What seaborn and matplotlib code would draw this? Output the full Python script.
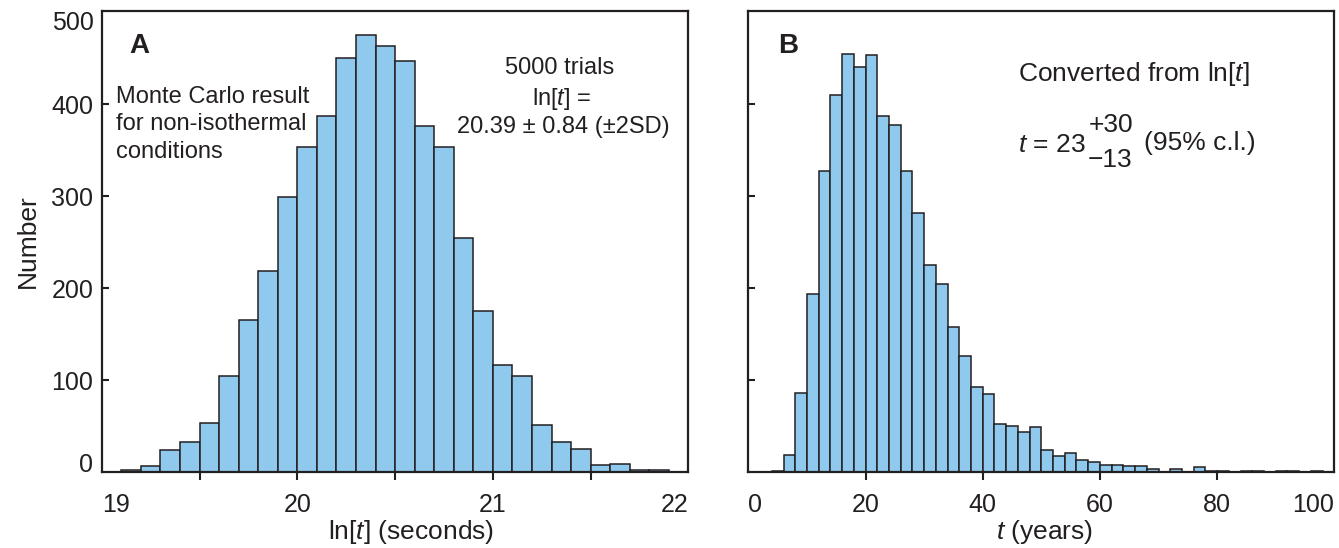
import numpy as np
import pandas as pd
import matplotlib
matplotlib.use("Agg")
import matplotlib.pyplot as plt
import seaborn as sns

# ---------------- data ----------------
# Panel A: ln[t] (seconds), bins of width 0.1
lnt_bin_left = [19.0, 19.1, 19.2, 19.3, 19.4, 19.5, 19.6, 19.7, 19.8, 19.9,
                20.0, 20.1, 20.2, 20.3, 20.4, 20.5, 20.6, 20.7, 20.8, 20.9,
                21.0, 21.1, 21.2, 21.3, 21.4, 21.5, 21.6, 21.7, 21.8, 21.9]
lnt_counts = [0, 2, 6, 24, 33, 53, 105, 165, 219, 299,
              354, 387, 450, 476, 464, 447, 377, 354, 255, 175,
              116, 104, 51, 33, 25, 8, 9, 2, 2, 0]
lnt_bin_width = 0.1

# Panel B: t (years), bins of width 2
yrs_bin_left = [0, 2, 4, 6, 8, 10, 12, 14, 16, 18,
                20, 22, 24, 26, 28, 30, 32, 34, 36, 38,
                40, 42, 44, 46, 48, 50, 52, 54, 56, 58,
                60, 62, 64, 66, 68, 70, 72, 74, 76, 78,
                80, 82, 84, 86, 88, 90, 92, 94, 96, 98]
yrs_counts = [0, 0, 1, 18, 86, 194, 328, 410, 455, 441,
              454, 387, 378, 328, 282, 225, 205, 158, 126, 93,
              85, 52, 50, 43, 49, 24, 17, 21, 13, 11,
              8, 8, 6, 7, 3, 0, 3, 0, 5, 1,
              1, 0, 1, 1, 0, 1, 1, 0, 1, 0]
yrs_bin_width = 2

lnt_major_ticks = [19.5, 20.0, 20.5, 21.0, 21.5]
lnt_major_labels = ["", "20", "", "21", ""]
lnt_end_ticks = [19, 22]
lnt_end_labels = ["19", "22"]

yrs_major_ticks = [20, 40, 60, 80]
yrs_major_labels = ["20", "40", "60", "80"]
yrs_end_ticks = [0, 100]
yrs_end_labels = ["0", "100"]

count_major_ticks = [100, 200, 300, 400]
count_major_labels = ["100", "200", "300", "400"]
count_end_ticks = [0, 502]
count_end_labels = ["0", "500"]

# ---------------- style ----------------
sns.set_style("ticks")
INK = "#231f20"
BAR = "#8fc9ee"
plt.rcParams["font.family"] = ["Liberation Sans", "DejaVu Sans"]
plt.rcParams["mathtext.fontset"] = "custom"
plt.rcParams["mathtext.rm"] = "Liberation Sans"
plt.rcParams["mathtext.it"] = "Liberation Sans:italic"
plt.rcParams["text.color"] = INK
plt.rcParams["axes.labelcolor"] = INK
plt.rcParams["xtick.color"] = INK
plt.rcParams["ytick.color"] = INK

TICK_FS = 18
LABEL_FS = 19

fig = plt.figure(figsize=(13.39, 5.48), dpi=100)
axA = fig.add_axes([0.0760, 0.1387, 0.4381, 0.8418])
axB = fig.add_axes([0.5589, 0.1387, 0.4376, 0.8418])

dfA = pd.DataFrame({"center": np.array(lnt_bin_left) + lnt_bin_width / 2,
                    "count": lnt_counts})
edgesA = list(lnt_bin_left) + [lnt_bin_left[-1] + lnt_bin_width]
sns.histplot(data=dfA, x="center", weights="count", bins=edgesA, ax=axA,
             color=BAR, edgecolor=INK, linewidth=1.1, alpha=1.0)

dfB = pd.DataFrame({"center": np.array(yrs_bin_left) + yrs_bin_width / 2,
                    "count": yrs_counts})
edgesB = list(yrs_bin_left) + [yrs_bin_left[-1] + yrs_bin_width]
sns.histplot(data=dfB, x="center", weights="count", bins=edgesB, ax=axB,
             color=BAR, edgecolor=INK, linewidth=1.1, alpha=1.0)

for ax in (axA, axB):
    for s in ax.spines.values():
        s.set_visible(True)
        s.set_linewidth(1.6)
        s.set_color(INK)
    ax.set_ylim(0, 502)
    ax.set_yticks(count_major_ticks)
    ax.tick_params(axis="x", which="major", direction="out", length=6,
                   width=1.5, pad=9, labelsize=TICK_FS)
    ax.tick_params(axis="x", which="minor", direction="out", length=0,
                   width=0, pad=15, labelsize=TICK_FS)
    ax.tick_params(axis="y", which="both", direction="in", length=5,
                   width=1.5, pad=6, labelsize=TICK_FS)
    ax.set_ylabel("")
    ax.set_xlabel("")

# Panel A axes
axA.set_xlim(19, 22)
axA.set_xticks(lnt_major_ticks)
axA.set_xticklabels(lnt_major_labels)
axA.set_xticks(lnt_end_ticks, minor=True)
axA.set_xticklabels(lnt_end_labels, minor=True)
labs = axA.get_xticklabels(minor=True)
labs[0].set_horizontalalignment("left")
labs[1].set_horizontalalignment("right")
axA.set_yticklabels(count_major_labels)
axA.set_yticks(count_end_ticks, minor=True)
axA.set_yticklabels(count_end_labels, minor=True)
axA.tick_params(axis="y", which="minor", length=0)
ylabs = axA.get_yticklabels(minor=True)
ylabs[0].set_verticalalignment("baseline")
ylabs[1].set_verticalalignment("top")

axA.set_ylabel("Number", fontsize=LABEL_FS)
axA.yaxis.set_label_coords(-0.105, 0.5)
axA.set_xlabel("ln[$t$] (seconds)", fontsize=LABEL_FS)
axA.xaxis.set_label_coords(0.527, -0.10)

# Panel B axes
axB.set_xlim(0, 100)
axB.set_xticks(yrs_major_ticks)
axB.set_xticklabels(yrs_major_labels)
axB.set_xticks(yrs_end_ticks, minor=True)
axB.set_xticklabels(yrs_end_labels, minor=True)
labsB = axB.get_xticklabels(minor=True)
labsB[0].set_horizontalalignment("left")
labsB[1].set_horizontalalignment("right")
axB.tick_params(axis="y", labelleft=False)
axB.set_xlabel("$t$ (years)", fontsize=LABEL_FS)
axB.xaxis.set_label_coords(0.506, -0.10)

# Annotations, panel A
axA.text(0.0465, 0.908, "A", transform=axA.transAxes, fontsize=20,
         fontweight="bold", ha="left", va="baseline")
for txt, yy in [("Monte Carlo result", 0.799),
                ("for non-isothermal", 0.7414),
                ("conditions", 0.6813)]:
    axA.text(0.0244, yy, txt, transform=axA.transAxes, fontsize=17,
             ha="left", va="baseline")
axA.text(0.7813, 0.8621, "5000 trials", transform=axA.transAxes,
         fontsize=17, ha="center", va="baseline")
axA.text(0.7847, 0.7949, "ln[$t$] =", transform=axA.transAxes,
         fontsize=17, ha="center", va="baseline")
axA.text(0.7864, 0.7355, "20.39 \u00b1 0.84 (\u00b12SD)", transform=axA.transAxes,
         fontsize=17, ha="center", va="baseline")

# Annotations, panel B
axB.text(0.0507, 0.908, "B", transform=axB.transAxes, fontsize=20,
         fontweight="bold", ha="left", va="baseline")
axB.text(0.4608, 0.8476, "Converted from ln[$t$]", transform=axB.transAxes,
         fontsize=19, ha="left", va="baseline")
axB.text(0.4608, 0.6943, "$t$ = 23", transform=axB.transAxes,
         fontsize=19, ha="left", va="baseline")
axB.text(0.5802, 0.7377, "+30", transform=axB.transAxes,
         fontsize=19, ha="left", va="baseline")
axB.text(0.5785, 0.6618, "\u221213", transform=axB.transAxes,
         fontsize=19, ha="left", va="baseline")
axB.text(0.6753, 0.698, "(95% c.l.)", transform=axB.transAxes,
         fontsize=19, ha="left", va="baseline")

fig.savefig("out.png", dpi=100)
